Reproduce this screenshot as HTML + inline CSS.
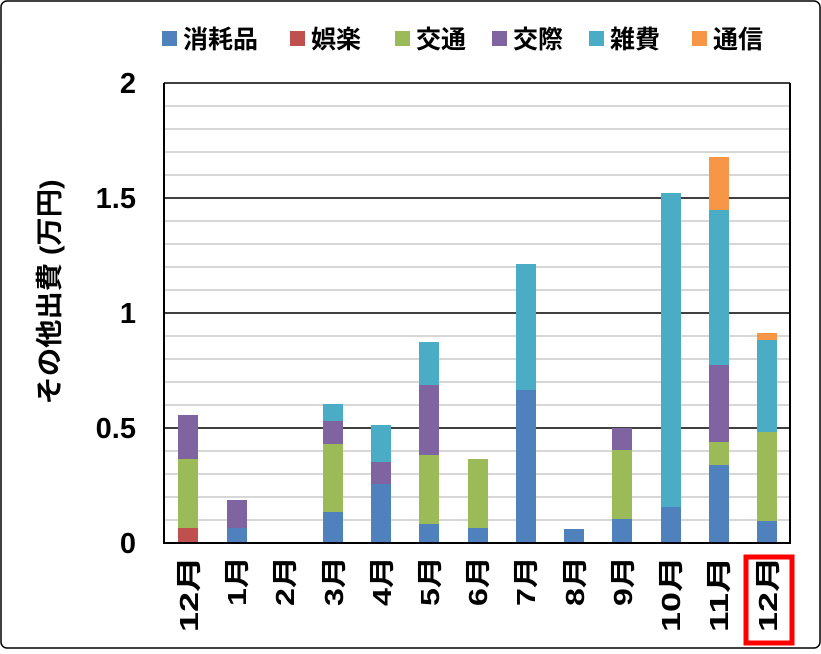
<!DOCTYPE html>
<html><head><meta charset="utf-8"><style>
body{margin:0;background:#fff}
svg text{font-family:"Liberation Sans","Noto Sans CJK JP",sans-serif;font-weight:bold}
</style></head><body>
<svg width="821" height="649" viewBox="0 0 821 649">
<rect x="1" y="1" width="819" height="647" rx="6" fill="#fff" stroke="#000" stroke-width="1.5"/>
<g stroke="#bfbfbf" stroke-width="1.2">
<line x1="164" x2="790" y1="520" y2="520"/><line x1="164" x2="790" y1="497" y2="497"/><line x1="164" x2="790" y1="474" y2="474"/><line x1="164" x2="790" y1="451" y2="451"/>
<line x1="164" x2="790" y1="405" y2="405"/><line x1="164" x2="790" y1="382" y2="382"/><line x1="164" x2="790" y1="359" y2="359"/><line x1="164" x2="790" y1="336" y2="336"/>
<line x1="164" x2="790" y1="290" y2="290"/><line x1="164" x2="790" y1="267" y2="267"/><line x1="164" x2="790" y1="244" y2="244"/><line x1="164" x2="790" y1="221" y2="221"/>
<line x1="164" x2="790" y1="175" y2="175"/><line x1="164" x2="790" y1="152" y2="152"/><line x1="164" x2="790" y1="129" y2="129"/><line x1="164" x2="790" y1="106" y2="106"/>
</g>
<g stroke="#000" stroke-width="1.5">
<line x1="164" x2="790" y1="428" y2="428"/><line x1="164" x2="790" y1="313" y2="313"/><line x1="164" x2="790" y1="198" y2="198"/><line x1="164" x2="790" y1="83" y2="83"/>
</g>
<g>
<rect x="178" y="528" width="20" height="15" fill="#C0504D"/><rect x="178" y="459" width="20" height="69" fill="#9BBB59"/><rect x="178" y="415" width="20" height="44" fill="#8064A2"/>
<rect x="227" y="528" width="20" height="15" fill="#4F81BD"/><rect x="227" y="500" width="20" height="28" fill="#8064A2"/>
<rect x="323" y="512" width="20" height="31" fill="#4F81BD"/><rect x="323" y="444" width="20" height="68" fill="#9BBB59"/><rect x="323" y="421" width="20" height="23" fill="#8064A2"/><rect x="323" y="404" width="20" height="17" fill="#4BACC6"/>
<rect x="371" y="484" width="20" height="59" fill="#4F81BD"/><rect x="371" y="462" width="20" height="22" fill="#8064A2"/><rect x="371" y="425" width="20" height="37" fill="#4BACC6"/>
<rect x="419" y="524" width="20" height="19" fill="#4F81BD"/><rect x="419" y="455" width="20" height="69" fill="#9BBB59"/><rect x="419" y="385" width="20" height="70" fill="#8064A2"/><rect x="419" y="342" width="20" height="43" fill="#4BACC6"/>
<rect x="468" y="528" width="20" height="15" fill="#4F81BD"/><rect x="468" y="459" width="20" height="69" fill="#9BBB59"/>
<rect x="516" y="390" width="20" height="153" fill="#4F81BD"/><rect x="516" y="264" width="20" height="126" fill="#4BACC6"/>
<rect x="564" y="529" width="20" height="14" fill="#4F81BD"/>
<rect x="612" y="519" width="20" height="24" fill="#4F81BD"/><rect x="612" y="450" width="20" height="69" fill="#9BBB59"/><rect x="612" y="428" width="20" height="22" fill="#8064A2"/>
<rect x="661" y="507" width="20" height="36" fill="#4F81BD"/><rect x="661" y="193" width="20" height="314" fill="#4BACC6"/>
<rect x="709" y="465" width="20" height="78" fill="#4F81BD"/><rect x="709" y="442" width="20" height="23" fill="#9BBB59"/><rect x="709" y="365" width="20" height="77" fill="#8064A2"/><rect x="709" y="210" width="20" height="155" fill="#4BACC6"/><rect x="709" y="157" width="20" height="53" fill="#F79646"/>
<rect x="757" y="521" width="20" height="22" fill="#4F81BD"/><rect x="757" y="432" width="20" height="89" fill="#9BBB59"/><rect x="757" y="340" width="20" height="92" fill="#4BACC6"/><rect x="757" y="333" width="20" height="7" fill="#F79646"/>
</g>
<g stroke="#000" stroke-width="2"><line x1="164" x2="164" y1="83" y2="543"/><line x1="163" x2="791" y1="543" y2="543"/><line x1="790" x2="790" y1="83" y2="543"/></g>
<g font-size="29" text-anchor="end" fill="#000">
<text x="136" y="553">0</text><text x="136" y="438">0.5</text><text x="136" y="323">1</text><text x="136" y="208">1.5</text><text x="136" y="93">2</text>
</g>
<text transform="translate(59,292) rotate(-90)" font-size="27" text-anchor="middle" textLength="225" lengthAdjust="spacingAndGlyphs">その他出費 (万円)</text>
<g font-size="26">
<text transform="translate(198,632) rotate(-90)" textLength="76" lengthAdjust="spacingAndGlyphs">12月</text>
<text transform="translate(246,606) rotate(-90)" textLength="50" lengthAdjust="spacingAndGlyphs">1月</text>
<text transform="translate(294,606) rotate(-90)" textLength="50" lengthAdjust="spacingAndGlyphs">2月</text>
<text transform="translate(343,606) rotate(-90)" textLength="50" lengthAdjust="spacingAndGlyphs">3月</text>
<text transform="translate(391,606) rotate(-90)" textLength="50" lengthAdjust="spacingAndGlyphs">4月</text>
<text transform="translate(439,606) rotate(-90)" textLength="50" lengthAdjust="spacingAndGlyphs">5月</text>
<text transform="translate(487,606) rotate(-90)" textLength="50" lengthAdjust="spacingAndGlyphs">6月</text>
<text transform="translate(535,606) rotate(-90)" textLength="50" lengthAdjust="spacingAndGlyphs">7月</text>
<text transform="translate(584,606) rotate(-90)" textLength="50" lengthAdjust="spacingAndGlyphs">8月</text>
<text transform="translate(632,606) rotate(-90)" textLength="50" lengthAdjust="spacingAndGlyphs">9月</text>
<text transform="translate(680,632) rotate(-90)" textLength="76" lengthAdjust="spacingAndGlyphs">10月</text>
<text transform="translate(728,632) rotate(-90)" textLength="76" lengthAdjust="spacingAndGlyphs">11月</text>
<text transform="translate(777,632) rotate(-90)" textLength="76" lengthAdjust="spacingAndGlyphs">12月</text>
</g>
<rect x="746" y="557" width="46" height="86" fill="none" stroke="#FF0000" stroke-width="5"/>
<g font-size="25">
<rect x="162" y="31" width="15" height="15" fill="#4F81BD"/><text x="183" y="48">消耗品</text>
<rect x="290" y="31" width="15" height="15" fill="#C0504D"/><text x="311" y="48">娯楽</text>
<rect x="395" y="31" width="15" height="15" fill="#9BBB59"/><text x="416" y="48">交通</text>
<rect x="492" y="31" width="15" height="15" fill="#8064A2"/><text x="513" y="48">交際</text>
<rect x="589" y="31" width="15" height="15" fill="#4BACC6"/><text x="610" y="48">雑費</text>
<rect x="692" y="31" width="15" height="15" fill="#F79646"/><text x="713" y="48">通信</text>
</g>
</svg>
</body></html>
